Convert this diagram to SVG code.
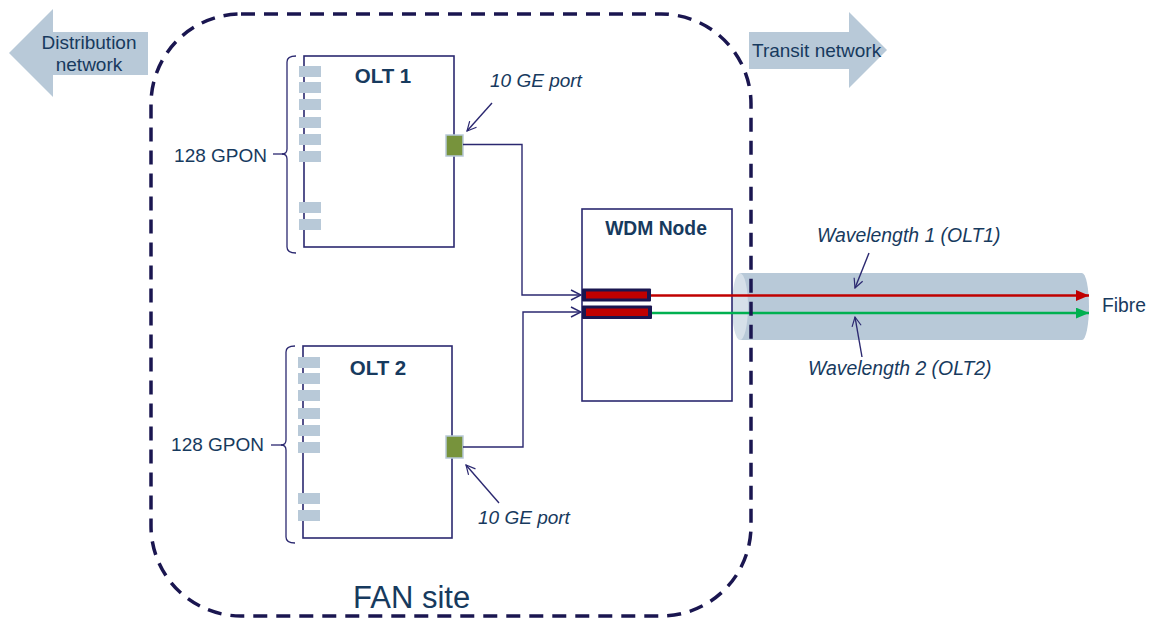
<svg xmlns="http://www.w3.org/2000/svg" width="1150" height="619" viewBox="0 0 1150 619">
<defs>
<style>
.t{font-family:"Liberation Sans",Arial,sans-serif;fill:#173a5e;font-size:19px}
.b{font-weight:bold}
.i{font-style:italic}
.box{fill:#fff;stroke:#2b2870;stroke-width:1.6}
.gp{fill:#b8c9d8}
.ge{fill:#77933c;stroke:#b8c9d8;stroke-width:1.5}
.ln{fill:none;stroke:#2b2870;stroke-width:1.4}
.br{fill:none;stroke:#2b2870;stroke-width:1.3}
</style>
<marker id="open" viewBox="0 0 12 12" refX="11" refY="6" markerWidth="12" markerHeight="12" markerUnits="userSpaceOnUse" orient="auto">
<path d="M1,1 L11,6 L1,11" fill="none" stroke="#2b2870" stroke-width="1.4"/>
</marker>
<marker id="openS" viewBox="0 0 12 12" refX="11" refY="6" markerWidth="11" markerHeight="11" markerUnits="userSpaceOnUse" orient="auto">
<path d="M1,1 L11,6 L1,11" fill="none" stroke="#2b2870" stroke-width="1.3"/>
</marker>
<marker id="red" viewBox="0 0 12 10" refX="12" refY="5" markerWidth="13" markerHeight="11" markerUnits="userSpaceOnUse" orient="auto">
<path d="M0,0 L12,5 L0,10 Z" fill="#c00000"/>
</marker>
<marker id="grn" viewBox="0 0 12 10" refX="12" refY="5" markerWidth="13" markerHeight="11" markerUnits="userSpaceOnUse" orient="auto">
<path d="M0,0 L12,5 L0,10 Z" fill="#00b050"/>
</marker>
</defs>
<rect width="1150" height="619" fill="#fff"/>

<g id="distribution-network">
<path d="M9,53 L53,9 L53,32 L148,32 L148,75 L53,75 L53,97 Z" fill="#b8c9d8"/>
<text class="t" x="89" y="49" text-anchor="middle">Distribution</text>
<text class="t" x="89" y="71" text-anchor="middle">network</text>
</g>

<g id="transit-network">
<path d="M749,32 L849,32 L849,12 L887,50 L849,88 L849,69 L749,69 Z" fill="#b8c9d8"/>
<text class="t" x="752" y="57">Transit network</text>
</g>

<g id="fibre">
<path d="M740,273 L1082,273 A7,33.5 0 0 1 1082,340 L740,340 Z" fill="#b8c9d8"/>
<ellipse cx="740" cy="306.5" rx="8" ry="33.5" fill="#d6e0e9"/>
<text class="t" x="1102" y="312" style="font-size:19.3px">Fibre</text>
</g>

<g id="olt1">
<rect class="box" x="304" y="56" width="150" height="191"/>
<text class="t b" x="383" y="83" text-anchor="middle" style="font-size:20.5px">OLT 1</text>
<rect class="gp" x="299" y="66" width="22" height="11"/>
<rect class="gp" x="299" y="82" width="22" height="11"/>
<rect class="gp" x="299" y="99" width="22" height="11"/>
<rect class="gp" x="299" y="117" width="22" height="11"/>
<rect class="gp" x="299" y="134" width="22" height="11"/>
<rect class="gp" x="299" y="151" width="22" height="11"/>
<rect class="gp" x="299" y="202" width="22" height="11"/>
<rect class="gp" x="299" y="219" width="22" height="11"/>
<rect class="ge" x="446" y="135" width="17" height="21"/>
<path class="br" d="M296,56 Q287,56 287,62 L287,149 Q287,154 282,154 Q287,154 287,159 L287,247 Q287,253 296,253"/>
<line class="br" x1="273" y1="154" x2="283" y2="154"/>
<text class="t" x="267" y="162" text-anchor="end">128 GPON</text>
</g>

<g id="olt2">
<rect class="box" x="303" y="346" width="149" height="192"/>
<text class="t b" x="378" y="375" text-anchor="middle" style="font-size:20.5px">OLT 2</text>
<rect class="gp" x="298" y="357" width="22" height="11"/>
<rect class="gp" x="298" y="373" width="22" height="11"/>
<rect class="gp" x="298" y="390" width="22" height="11"/>
<rect class="gp" x="298" y="408" width="22" height="11"/>
<rect class="gp" x="298" y="425" width="22" height="11"/>
<rect class="gp" x="298" y="442" width="22" height="11"/>
<rect class="gp" x="298" y="493" width="22" height="11"/>
<rect class="gp" x="298" y="510" width="22" height="11"/>
<rect class="ge" x="446" y="436" width="17" height="22"/>
<path class="br" d="M295,346 Q286,346 286,352 L286,440 Q286,445 281,445 Q286,445 286,450 L286,537 Q286,543 295,543"/>
<line class="br" x1="271" y1="445" x2="282" y2="445"/>
<text class="t" x="264" y="451" text-anchor="end">128 GPON</text>
</g>

<g id="wdm-node">
<rect class="box" x="582" y="209" width="150" height="192"/>
<text class="t b" x="656" y="235" text-anchor="middle" style="font-size:19.3px">WDM Node</text>
<rect x="582" y="288.5" width="69" height="13" fill="#1a1650" rx="1"/>
<rect x="586" y="291.5" width="61" height="7" fill="#c00000"/>
<rect x="582" y="305.5" width="70" height="13.5" fill="#1a1650" rx="1"/>
<rect x="586" y="308.5" width="62" height="7.5" fill="#c00000"/>
</g>

<g id="labels">
<text class="t i" x="490" y="87">10 GE port</text>
<text class="t i" x="478" y="524">10 GE port</text>
<text class="t i" x="817" y="242" style="font-size:19.4px">Wavelength 1 (OLT1)</text>
<text class="t i" x="808" y="375" style="font-size:19.4px">Wavelength 2 (OLT2)</text>
</g>

<g id="connectors">
<path class="ln" d="M463,144.5 H522 V295 H581" marker-end="url(#open)"/>
<path class="ln" d="M463,447 H523 V312 H581" marker-end="url(#open)"/>
<line x1="651" y1="295.5" x2="1089" y2="295.5" stroke="#c00000" stroke-width="2.6" marker-end="url(#red)"/>
<line x1="652" y1="313" x2="1089" y2="313" stroke="#00b050" stroke-width="2.6" marker-end="url(#grn)"/>
<line class="ln" x1="492" y1="103" x2="467" y2="131" marker-end="url(#openS)"/>
<line class="ln" x1="499" y1="503" x2="466" y2="465" marker-end="url(#openS)"/>
<line class="ln" x1="869" y1="253" x2="855" y2="288" marker-end="url(#openS)"/>
<line class="ln" x1="862" y1="357" x2="855" y2="317" marker-end="url(#openS)"/>
</g>

<g id="fan-site">
<rect x="151" y="14" width="600" height="602" rx="90" ry="90" fill="none" stroke="#1a1650" stroke-width="3.5" stroke-dasharray="14,9"/>
<text class="t" x="353" y="608" style="font-size:31px">FAN site</text>
</g>
</svg>
